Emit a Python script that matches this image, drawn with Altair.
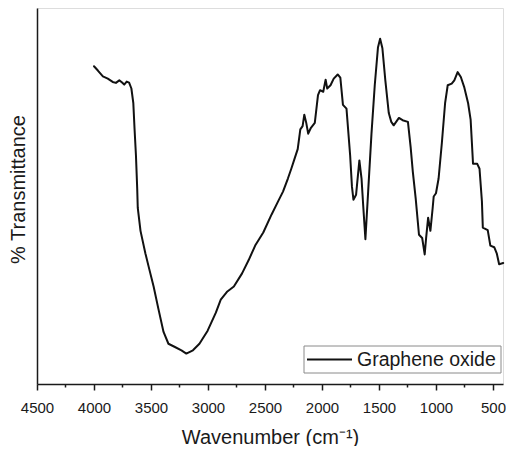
import altair as alt
import pandas as pd

wavenumber = [4000, 3966, 3922, 3879, 3836, 3808, 3778, 3756, 3735, 3713, 3692, 3672,
              3655, 3644, 3632, 3621, 3616, 3592, 3549, 3520, 3477, 3434, 3390, 3347,
              3290, 3233, 3190, 3132, 3075, 3003, 2931, 2888, 2830, 2773, 2701, 2644,
              2586, 2515, 2442, 2385, 2342, 2299, 2270, 2241, 2213, 2190, 2170, 2155,
              2138, 2121, 2097, 2063, 2035, 2017, 1989, 1968, 1954, 1925, 1897, 1862,
              1839, 1816, 1785, 1753, 1737, 1724, 1701, 1672, 1653, 1638, 1619, 1595,
              1566, 1537, 1509, 1490, 1470, 1444, 1414, 1392, 1371, 1325, 1293, 1246,
              1222, 1203, 1178, 1149, 1121, 1099, 1086, 1069, 1049, 1029, 1020, 1000,
              977, 948, 920, 897, 862, 839, 810, 782, 753, 718, 696, 685, 675, 638,
              618, 597, 589, 546, 523, 489, 466, 446, 425, 410]
transmittance = [323.7, 319.3, 313.3, 311, 307.7, 306.7, 309.3, 307.3, 305, 308, 307, 301,
                 286, 259.3, 233, 199.3, 179.3, 156, 133, 119.3, 99.3, 76, 53, 41,
                 37.7, 34.3, 31, 34.3, 41, 54.3, 72.7, 86, 94.3, 99.3, 112.7, 126,
                 141, 154.3, 172.7, 186, 196, 209.3, 219, 229.3, 239.3, 259.3, 262.7, 274.3,
                 266, 255, 261, 266, 294.3, 299.3, 297.7, 310, 301, 304.3, 311, 315.3,
                 312, 284.3, 280.5, 233, 201, 187.7, 192.7, 227.7, 209.3, 181, 147.5, 196,
                 254.5, 304.3, 342.7, 351.7, 342, 309, 276, 267, 263.5, 271, 268.7, 267,
                 241, 216, 189, 152, 148.7, 132, 149.3, 169.3, 156, 179.3, 191, 194.3,
                 209.3, 246, 286, 304.3, 306, 309.3, 317.7, 312.7, 302.7, 286, 269.3, 246, 224.3, 224.3,
                 219.3, 186, 159.3, 156.7, 141, 139.3, 132.7, 122, 122.7, 123.3]
series_name = ["Graphene oxide"]
x_ticks = [4500, 4250, 4000, 3750, 3500, 3250, 3000, 2750, 2500, 2250, 2000,
           1750, 1500, 1250, 1000, 750, 500]

df = pd.DataFrame({"wn": wavenumber, "t": transmittance})
leg = pd.DataFrame({"series": series_name})

FONT = "Liberation Sans"
INK = "#1a1a1a"

line = alt.Chart(df).mark_line(strokeWidth=2, strokeJoin="round", strokeCap="round",
                               color="#111111").encode(
    x=alt.X("wn:Q",
            scale=alt.Scale(domain=[4500, 412], nice=False, zero=False),
            axis=alt.Axis(values=x_ticks, grid=False, format="d",
                          labelExpr="datum.value % 500 === 0 ? datum.label : ''",
                          labelOverlap=False, labelFlush=False,
                          tickSize={"condition": {"test": "datum.value % 500 === 0", "value": 6}, "value": 3},
                          tickColor=INK, tickWidth=1.5,
                          labelFont=FONT, labelFontSize=15, labelColor=INK, labelPadding=10,
                          title="Wavenumber (cm⁻¹)", titleFont=FONT, titleFontSize=20,
                          titleFontWeight="normal", titleColor=INK, titlePadding=12,
                          domainColor=INK, domainWidth=1.5)),
    y=alt.Y("t:Q",
            scale=alt.Scale(domain=[0, 383], nice=False, zero=False),
            axis=alt.Axis(labels=False, ticks=False, grid=False,
                          title="% Transmittance", titleFont=FONT, titleFontSize=20,
                          titleFontWeight="normal", titleColor=INK, titlePadding=9,
                          titleY=181,
                          domainColor=INK, domainWidth=1.5)),
)

# legend box (manual, mimicking the Origin-style framed legend)
leg_box = alt.Chart(leg).mark_rect(fill="white", stroke="#8a8a8a", strokeWidth=1).encode(
    x=alt.value(267), x2=alt.value(464), y=alt.value(338), y2=alt.value(365))
leg_line = alt.Chart(leg).mark_rule(color="#111111", strokeWidth=2).encode(
    x=alt.value(270), x2=alt.value(315), y=alt.value(351.5))
leg_text = alt.Chart(leg).mark_text(align="left", baseline="middle", font=FONT,
                                    fontSize=19.5, color=INK).encode(
    x=alt.value(320), y=alt.value(352), text="series:N")

chart = alt.layer(line, leg_box, leg_line, leg_text).properties(
    width=466, height=376,
    padding={"left": 29, "top": 0, "right": 3, "bottom": 62},
    autosize=alt.AutoSizeParams(type="none"),
).configure_view(stroke=INK, strokeWidth=1.5).configure(background="white")

chart.save("out.html", embed_options={"renderer": "svg", "actions": False})
